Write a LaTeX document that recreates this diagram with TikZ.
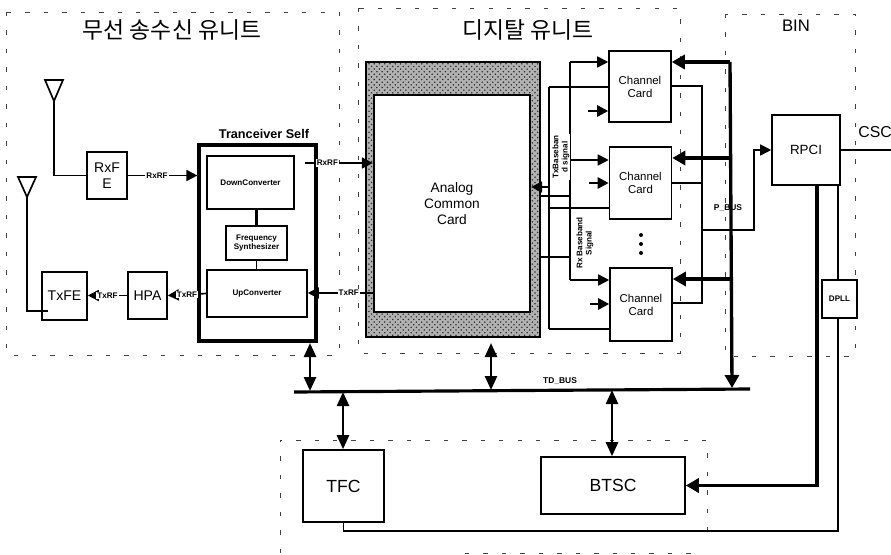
\documentclass[tikz,border=0pt]{standalone}
\usepackage{fontspec}
\setmainfont{Liberation Sans}
\newfontfamily\kofont{Noto Sans CJK KR}
\usetikzlibrary{arrows.meta,calc,patterns}
\newcommand{\fsz}[1]{\fontsize{#1}{1.15\dimexpr#1pt\relax}\selectfont}

\begin{document}
\begin{tikzpicture}[x=0.02cm,y=-0.02cm,
    blockbox/.style={draw,line width=0.9pt,fill=white,inner sep=0pt,align=center},
    regionbox/.style={line width=0.4pt,dash pattern=on 2.5pt off 8pt,black!75},
    wire/.style={line width=0.95pt},
    heavywire/.style={line width=1.6pt},
    sigarrow/.style={line width=0.95pt,-{Triangle[length=0.22cm,width=0.22cm]}},
    heavyarrow/.style={line width=1.9pt,-{Triangle[length=0.26cm,width=0.28cm]}},
    busarrow/.style={line width=1.4pt,{Triangle[length=0.28cm,width=0.24cm]}-{Triangle[length=0.28cm,width=0.24cm]}},
    siglabel/.style={font=\fsz{4.6}\bfseries,inner sep=0.6pt,fill=white,align=center},
    title/.style={font=\kofont\fsz{13}}]
  \useasboundingbox (0,0) rectangle (891,554);

  % Dashed regions
  \draw[regionbox] (6,12) rectangle (339,355);
  \draw[regionbox] (358,8) rectangle (680,353);
  \draw[regionbox] (725,14) rectangle (855,356);
  \draw[regionbox] (280,553) -- (280,440) -- (707,440) -- (707,537);
  \draw[regionbox] (465,553) -- (695,553);
  \node[title] (ttlradio) at (172,30) {무선 송수신 유니트};
  \node[title] (ttldigital) at (528,30) {디지탈 유니트};
  \node[font=\fsz{9.5}] (ttlbin) at (796,26) {BIN};

  % Antennas
  \coordinate (antrx) at (54,101);
  \coordinate (anttx) at (27,197);
  \draw[wire] (45,80) -- (63,80) -- (antrx) -- cycle;
  \draw[wire] (18,177) -- (36,177) -- (anttx) -- cycle;

  % Radio unit
  \node[blockbox,minimum width=0.8cm,minimum height=0.94cm,font=\fsz{8}] (rxfe) at (107,175.5) {RxF\\E};
  \node[blockbox,minimum width=0.9cm,minimum height=0.96cm,font=\fsz{8}] (txfe) at (64.5,296) {TxFE};
  \node[blockbox,minimum width=0.78cm,minimum height=0.94cm,font=\fsz{8}] (hpa) at (147.5,295.5) {HPA};
  \node[blockbox,line width=1.8pt,minimum width=2.34cm,minimum height=3.92cm] (tcvr) at (257.5,243) {};
  \node[font=\fsz{7.2}\bfseries] (tcvrname) at (264,134) {Tranceiver Self};
  \node[blockbox,minimum width=1.74cm,minimum height=1.06cm,font=\fsz{4.6}\bfseries] (downconv) at (250.5,182.5) {DownConverter};
  \node[blockbox,minimum width=1.22cm,minimum height=0.68cm,font=\fsz{4.6}\bfseries] (freqsyn) at (256.5,243) {Frequency\\Synthesizer};
  \node[blockbox,minimum width=2cm,minimum height=0.94cm,font=\fsz{4.6}\bfseries] (upconv) at (257,293.5) {UpConverter};

  % Analog card
  \node[draw,line width=1.1pt,preaction={fill=black!30},pattern=crosshatch dots,pattern color=black!80,minimum width=3.48cm,minimum height=5.5cm] (acouter) at (453,199.5) {};
  \node[blockbox,line width=1.3pt,minimum width=3.12cm,minimum height=4.34cm,font=\fsz{7.8}] (accard) at (452,203.5) {Analog\\Common\\Card};

  % Channel cards
  \node[blockbox,minimum width=1.24cm,minimum height=1.42cm,font=\fsz{6.5}] (card1) at (640,86.5) {Channel\\Card};
  \node[blockbox,minimum width=1.24cm,minimum height=1.44cm,font=\fsz{6.5}] (card2) at (640.5,183) {Channel\\Card};
  \node[blockbox,minimum width=1.24cm,minimum height=1.46cm,font=\fsz{6.5}] (card3) at (641,304.5) {Channel\\Card};
  \foreach \dy in {235,244,253}
    \fill (641,\dy) circle (2);

  % BIN and control blocks
  \node[blockbox,minimum width=1.36cm,minimum height=1.4cm,font=\fsz{7.6}] (rpci) at (806,150) {RPCI};
  \node[blockbox,minimum width=0.7cm,minimum height=0.76cm,font=\fsz{4.6}\bfseries] (dpll) at (839.5,299) {DPLL};
  \node[blockbox,minimum width=1.62cm,minimum height=1.44cm,font=\fsz{10}] (tfc) at (343.5,486) {TFC};
  \node[blockbox,minimum width=2.88cm,minimum height=1.14cm,font=\fsz{10}] (btsc) at (613,485.5) {BTSC};

  % Radio connectors
  \draw[wire] (rxfe.west) -| (antrx);
  \coordinate (txfein) at (48,311);
  \draw[wire] (txfein) -| (anttx);
  \draw[sigarrow] (rxfe.east) -- (rxfe.east -| tcvr.west) node[siglabel,pos=0.42] (lblrxa) {RxRF};
  \draw[sigarrow] (upconv.west) -- (hpa.east) node[siglabel,pos=0.5] (lbltxa) {TxRF};
  \draw[sigarrow] (hpa.west) -- (hpa.west -| txfe.east) node[siglabel,pos=0.5] (lbltxb) {TxRF};
  \draw[heavywire] (downconv.south -| freqsyn.north) -- (freqsyn.north);
  \draw[wire] (freqsyn.south) -- (freqsyn.south |- upconv.north);

  % Radio to analog card
  \coordinate (rxrfout) at (305,163);
  \draw[sigarrow] (rxrfout) -- (rxrfout -| accard.west) node[siglabel,pos=0.33] (lblrxb) {RxRF};
  \coordinate (txrfin) at (375,293);
  \draw[sigarrow] (txrfin) -- (txrfin -| upconv.east) node[siglabel,pos=0.39] (lbltxc) {TxRF};

  % Baseband lines
  \coordinate (txbb) at (549,187);
  \coordinate (txbb1) at (549,87);
  \coordinate (txbb2) at (549,208);
  \coordinate (txbb3) at (549,329);
  \coordinate (rxbb1) at (570,62);
  \coordinate (rxbb2) at (570,160);
  \coordinate (rxbb3) at (570,280);
  \coordinate (rxacc1) at (570,196);
  \coordinate (rxacc2) at (570,257);
  \draw[sigarrow] (txbb) -- (txbb -| accard.east);
  \draw[wire] (txbb3) -- (txbb1);
  \draw[wire] (txbb1) -- (txbb1 -| card1.west);
  \draw[wire] (txbb2) -- (txbb2 -| card2.west);
  \draw[wire] (txbb3) -- (txbb3 -| card3.west);
  \draw[wire] (rxbb1) -- (rxbb3);
  \draw[wire] (rxacc1 -| acouter.east) -- (rxacc1);
  \draw[wire] (rxacc2 -| acouter.east) -- (rxacc2);
  \draw[sigarrow] (rxbb1) -- (rxbb1 -| card1.west);
  \draw[sigarrow] (rxbb2) -- (rxbb2 -| card2.west);
  \draw[sigarrow] (rxbb3) -- (rxbb3 -| card3.west);
  \node[siglabel,rotate=90] (lbltxbb) at (561,157) {TxBaseban\\d signal};
  \node[siglabel,rotate=90] (lblrxbb) at (585,243) {Rx Baseband\\Signal};

  % Short inputs of channel cards
  \coordinate (clk1) at (588,111);
  \coordinate (clk2) at (589,183);
  \coordinate (clk3) at (590,304);
  \draw[sigarrow,line width=1.4pt] (clk1) -- (clk1 -| card1.west);
  \draw[sigarrow,line width=1.4pt] (clk2) -- (clk2 -| card2.west);
  \draw[sigarrow,line width=1.4pt] (clk3) -- (clk3 -| card3.west);

  % P_BUS
  \coordinate (pbus1) at (730,62);
  \coordinate (pbus2) at (730,158);
  \coordinate (pbus3) at (731,279);
  \coordinate (pbusend) at (732,388);
  \draw[heavyarrow] (pbus1) -- (pbusend);
  \draw[heavyarrow] (pbus1) -- (pbus1 -| card1.east);
  \draw[heavyarrow] (pbus2) -- (pbus2 -| card2.east);
  \draw[heavyarrow] (pbus3) -- (pbus3 -| card3.east);
  \node[font=\fsz{4.8}\bfseries] (lblpbus) at (728,208) {P\_BUS};

  % Card outputs to RPCI
  \coordinate (cardout1) at (702,86);
  \coordinate (cardout2) at (702,183);
  \coordinate (cardout3) at (702,303);
  \coordinate (rpcijoin) at (702,230);
  \coordinate (rpcibend) at (754,230);
  \draw[wire] (cardout1 -| card1.east) -- (cardout1) -- (cardout3) -- (cardout3 -| card3.east);
  \draw[wire] (cardout2 -| card2.east) -- (cardout2);
  \draw[sigarrow] (rpcijoin) -- (rpcibend) |- (rpci.west);

  % RPCI links
  \coordinate (cscout) at (891,150);
  \node[font=\fsz{9},anchor=west,inner sep=0pt] (lblcsc) at (858,132) {CSC};
  \draw[wire] (rpci.east) -- (cscout);
  \coordinate (rpcia) at (817,185);
  \coordinate (rpcib) at (838,185);
  \coordinate (tfcbend) at (838,531);
  \draw[wire] (rpcib) -- (rpcib |- dpll.north);
  \draw[heavyarrow] (rpcia) |- (btsc.east);
  \draw[wire] (rpcib |- dpll.south) -- (tfcbend) -| (tfc.south);

  % TD_BUS
  \coordinate (tdleft) at (294,392);
  \coordinate (tdright) at (750,389);
  \draw[line width=1.8pt] (tdleft) -- (tdright);
  \node[font=\fsz{4.8}\bfseries] (lbltdbus) at (560,381) {TD\_BUS};
  \coordinate (tdtcvr) at (310,391);
  \coordinate (tdtcvrup) at (310,343);
  \coordinate (tddig) at (491,390);
  \coordinate (tddigup) at (491,343);
  \coordinate (tdtfc) at (343,392);
  \coordinate (tdbtsc) at (612,390);
  \draw[busarrow] (tdtcvr) -- (tdtcvrup);
  \draw[busarrow] (tddig) -- (tddigup);
  \draw[busarrow] (tdtfc) -- (tdtfc |- tfc.north);
  \draw[busarrow] (tdbtsc) -- (tdbtsc |- btsc.north);
\end{tikzpicture}
\end{document}
